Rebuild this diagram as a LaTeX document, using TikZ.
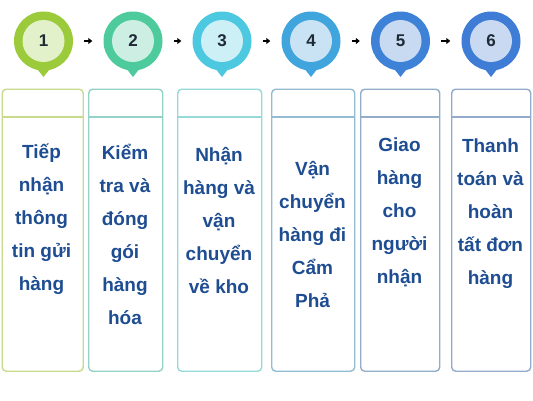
\documentclass[tikz,border=0pt]{standalone}
\usepackage{fontspec}
\setmainfont{Liberation Sans}
\usetikzlibrary{arrows.meta}
\definecolor{oc1}{HTML}{9BCB3B}\definecolor{ic1}{HTML}{E2F1C9}\definecolor{bc1}{HTML}{C8DA8C}
\definecolor{oc2}{HTML}{4DCB9C}\definecolor{ic2}{HTML}{CDEFE3}\definecolor{bc2}{HTML}{93D3C7}
\definecolor{oc3}{HTML}{4CC8E0}\definecolor{ic3}{HTML}{CDEFF6}\definecolor{bc3}{HTML}{97D8D8}
\definecolor{oc4}{HTML}{3FA5DC}\definecolor{ic4}{HTML}{C9E3F4}\definecolor{bc4}{HTML}{93BBD2}
\definecolor{oc5}{HTML}{3E82D8}\definecolor{ic5}{HTML}{C8DAF2}\definecolor{bc5}{HTML}{93ADC8}
\definecolor{oc6}{HTML}{3E7CD6}\definecolor{ic6}{HTML}{C9D9F1}\definecolor{bc6}{HTML}{93ABCB}
\definecolor{txt}{HTML}{1E4D92}
\definecolor{num}{HTML}{1E2A36}
\begin{document}
\begin{tikzpicture}[x=1pt,y=-1pt,
  pin/.style={circle,minimum size=59pt,inner sep=0pt},
  inner/.style={circle,minimum size=42pt,inner sep=0pt,text=num,font=\fontsize{17}{20}\selectfont\bfseries},
  box/.style={rectangle,rounded corners=4pt,line width=1.4pt,fill=white},
  lbl/.style={align=center,text=txt,font=\fontsize{19}{33}\selectfont\bfseries},
  arr/.style={line width=1.6pt,-{Triangle[length=4pt,width=6pt]}}]
\useasboundingbox (0,0) rectangle (533,400);
\fill[white] (0,0) rectangle (533,400);
% pins
\foreach \i/\x in {1/43.5,2/133,3/222,4/311,5/400.5,6/491}{
  \fill[oc\i] (\x-7,41+27) -- (\x,41+36) -- (\x+7,41+27) -- cycle;
  \node[pin,fill=oc\i] (p\i) at (\x,41) {};
  \node[inner,fill=ic\i] (n\i) at (p\i.center) {\i};
}
% arrows
\draw[arr] ([xshift=11pt]p1.east) -- ([xshift=-11pt]p2.west);
\draw[arr] ([xshift=11pt]p2.east) -- ([xshift=-11pt]p3.west);
\draw[arr] ([xshift=11pt]p3.east) -- ([xshift=-11pt]p4.west);
\draw[arr] ([xshift=11pt]p4.east) -- ([xshift=-11pt]p5.west);
\draw[arr] ([xshift=11pt]p5.east) -- ([xshift=-11pt]p6.west);
% boxes
\foreach \i/\l/\r in {1/1.5/82.5,2/88/162,3/177/261,4/271/354,5/360/439,6/451/530}{
  \node[box,draw=bc\i,minimum width=\r-\l,minimum height=282pt,anchor=north west] (b\i) at (\l,88.5) {};
  \draw[bc\i,line width=1.4pt] (\l,117) -- (\r,117);
}
% texts
\node[lbl] (t1) at (41.5,219) {Tiếp\\nhận\\thông\\tin gửi\\hàng};
\node[lbl] (t2) at (125,234) {Kiểm\\tra và\\đóng\\gói\\hàng\\hóa};
\node[lbl] (t3) at (219,220.5) {Nhận\\hàng và\\vận\\chuyển\\về kho};
\node[lbl] (t4) at (312.5,234.5) {Vận\\chuyển\\hàng đi\\Cẩm\\Phả};
\node[lbl] (t5) at (399.5,212) {Giao\\hàng\\cho\\người\\nhận};
\node[lbl] (t6) at (490.5,213.5) {Thanh\\toán và\\hoàn\\tất đơn\\hàng};
\end{tikzpicture}
\end{document}
